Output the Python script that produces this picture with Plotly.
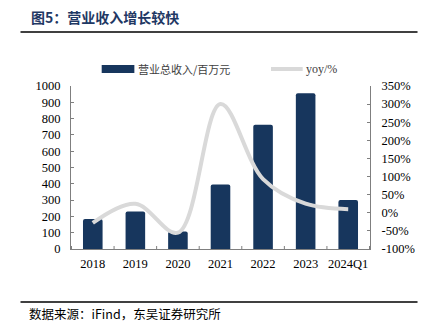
import plotly.graph_objects as go

categories = ["2018", "2019", "2020", "2021", "2022", "2023", "2024Q1"]
revenue = [184, 230, 108, 396, 763, 955, 300]
yoy = [-28, 25, -55, 300, 93, 25, 10]
left_ticks = list(range(0, 1001, 100))
right_ticks = list(range(-100, 351, 50))

BAR = "#17365d"
LINE = "#d9d9d9"
AX = "#7f7f7f"
serif = "Liberation Serif, Times New Roman, serif"
cjk = "Noto Sans CJK SC"

L, R, T, B = 71, 54, 86, 84
W, H = 427, 333
pw, ph = W - L - R, H - T - B

def px(x):
    return (x - L) / pw

def py(y):
    return (H - B - y) / ph

fig = go.Figure()
fig.add_trace(go.Bar(x=categories, y=revenue, marker=dict(color=BAR, line=dict(width=0),
                     cornerradius=2), width=0.46, name="营业总收入/百万元", yaxis="y"))
fig.add_trace(go.Scatter(x=categories, y=yoy, mode="lines", line=dict(color=LINE, width=4, shape="spline", smoothing=1.0),
                         name="yoy/%", yaxis="y2"))

shapes = [
    dict(type="line", xref="paper", yref="paper", x0=px(20), x1=px(421), y0=py(32), y1=py(32),
         line=dict(color="black", width=1.5)),
    dict(type="line", xref="paper", yref="paper", x0=px(20), x1=px(421), y0=py(302), y1=py(302),
         line=dict(color="black", width=1.5)),
    dict(type="rect", xref="paper", yref="paper", x0=px(102), x1=px(135), y0=py(73), y1=py(65),
         fillcolor=BAR, line=dict(width=0)),
    dict(type="line", xref="paper", yref="paper", x0=px(273), x1=px(305), y0=py(69), y1=py(69),
         line=dict(color=LINE, width=4)),
]
annotations = [
    dict(text="<b>图5：营业收入增长较快</b>", xref="paper", yref="paper", x=px(29), y=py(17),
         xanchor="left", yanchor="middle", showarrow=False, font=dict(family=cjk, size=14, color="#1f3864")),
    dict(text="营业总收入/百万元", xref="paper", yref="paper", x=px(137), y=py(69),
         xanchor="left", yanchor="middle", showarrow=False, font=dict(family=cjk, size=11, color="#404040")),
    dict(text="yoy/%", xref="paper", yref="paper", x=px(306), y=py(69),
         xanchor="left", yanchor="middle", showarrow=False, font=dict(family=serif, size=12, color="#404040")),
    dict(text="数据来源：iFind，东吴证券研究所", xref="paper", yref="paper", x=px(27), y=py(313),
         xanchor="left", yanchor="middle", showarrow=False, font=dict(family=cjk, size=12.5, color="black")),
]

fig.update_layout(
    width=W, height=H, margin=dict(l=L, r=R, t=T, b=B),
    paper_bgcolor="white", plot_bgcolor="white", showlegend=False,
    font=dict(family=serif, size=12.5, color="black"),
    xaxis=dict(showline=True, linecolor=AX, linewidth=1, ticks="", showgrid=False,
               tickfont=dict(family=serif, size=12.5), ticklabelstandoff=3),
    yaxis=dict(range=[0, 1000], tickvals=left_ticks, showline=True, linecolor=AX, linewidth=1,
               ticks="inside", ticklen=3, tickcolor=AX, showgrid=False, zeroline=False,
               tickfont=dict(family=serif, size=12.5), ticklabelstandoff=7),
    yaxis2=dict(range=[-100, 350], tickvals=right_ticks, ticktext=[f"{v}%" for v in right_ticks],
                overlaying="y", side="right", showline=True, linecolor=AX, linewidth=1,
                ticks="inside", ticklen=3, tickcolor=AX, showgrid=False, zeroline=False,
                tickfont=dict(family=serif, size=12.5), ticklabelstandoff=8),
    shapes=shapes, annotations=annotations,
)
# x-axis boundary ticks between categories
for i in range(len(categories) + 1):
    fig.add_shape(type="line", xref="x", yref="paper", x0=i - 0.5, x1=i - 0.5, y0=0, y1=3 / ph,
                  line=dict(color=AX, width=1))

fig.write_html("out.html")
